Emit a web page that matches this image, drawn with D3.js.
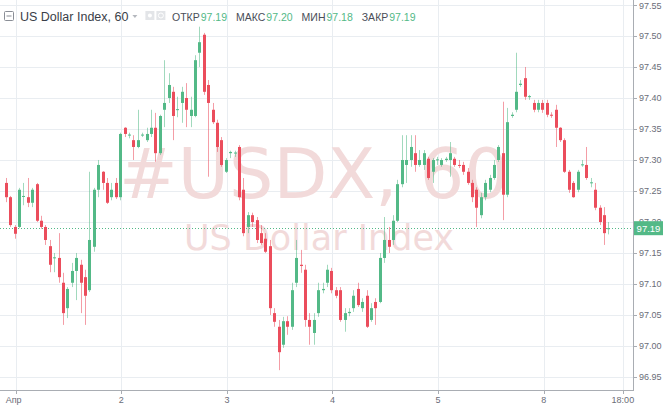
<!DOCTYPE html>
<html><head><meta charset="utf-8">
<script src="https://cdn.jsdelivr.net/npm/d3@7"></script>
<style>html,body{margin:0;padding:0;background:#fff;overflow:hidden}</style>
</head><body><svg id="c" width="665" height="408"></svg>
<script>
// hourly candles, Mar 31 22:00 .. Apr 8 15:00
const opens = [97.263,97.240,97.192,97.192,97.241,97.240,97.231,97.261,97.202,97.192,
97.161,97.142,97.142,97.102,97.061,97.102,97.121,97.131,97.111,97.090,
97.160,97.252,97.281,97.263,97.240,97.263,97.240,97.352,97.340,97.332,
97.321,97.340,97.332,97.342,97.352,97.311,97.381,97.400,97.410,97.381,
97.392,97.400,97.371,97.371,97.473,97.502,97.421,97.381,97.360,97.332,
97.281,97.311,97.311,97.321,97.252,97.192,97.211,97.203,97.182,97.173,
97.161,97.053,97.031,97.002,97.040,97.031,97.102,97.131,97.123,97.042,
97.021,97.053,97.090,97.102,97.121,97.090,97.090,97.042,97.053,97.061,
97.092,97.061,97.081,97.042,97.071,97.071,97.142,97.171,97.171,97.202,
97.261,97.292,97.300,97.311,97.292,97.292,97.302,97.281,97.300,97.292,
97.300,97.300,97.302,97.292,97.292,97.281,97.263,97.252,97.211,97.240,
97.252,97.271,97.300,97.311,97.244,97.371,97.381,97.421,97.432,97.402,
97.392,97.381,97.392,97.392,97.373,97.381,97.352,97.332,97.281,97.263,
97.252,97.292,97.292,97.263,97.252,97.223,97.211,97.19];
const highs = [97.271,97.242,97.195,97.255,97.263,97.271,97.255,97.263,97.210,97.195,
97.171,97.150,97.182,97.118,97.095,97.134,97.150,97.139,97.123,97.281,
97.255,97.300,97.282,97.271,97.263,97.271,97.344,97.353,97.344,97.340,
97.381,97.344,97.352,97.381,97.376,97.373,97.461,97.440,97.418,97.402,
97.418,97.424,97.402,97.469,97.515,97.505,97.429,97.392,97.365,97.337,
97.303,97.315,97.315,97.324,97.271,97.216,97.215,97.208,97.195,97.182,
97.171,97.061,97.042,97.047,97.048,97.102,97.171,97.155,97.131,97.053,
97.053,97.102,97.102,97.131,97.126,97.095,97.095,97.061,97.061,97.090,
97.102,97.077,97.090,97.069,97.077,97.150,97.208,97.192,97.211,97.268,
97.340,97.340,97.340,97.340,97.316,97.316,97.305,97.303,97.305,97.303,
97.305,97.329,97.305,97.300,97.297,97.287,97.268,97.256,97.247,97.268,
97.276,97.300,97.324,97.394,97.384,97.377,97.473,97.429,97.450,97.405,
97.397,97.397,97.397,97.397,97.377,97.389,97.353,97.335,97.284,97.266,
97.284,97.300,97.321,97.271,97.263,97.227,97.224,97.20];
const lows = [97.232,97.192,97.173,97.190,97.227,97.224,97.224,97.200,97.189,97.163,
97.119,97.119,97.102,97.034,97.045,97.095,97.074,97.053,97.034,97.087,
97.152,97.240,97.252,97.229,97.235,97.237,97.235,97.337,97.335,97.300,
97.319,97.337,97.329,97.337,97.297,97.308,97.353,97.392,97.332,97.369,
97.360,97.353,97.353,97.369,97.450,97.405,97.273,97.358,97.313,97.289,
97.279,97.303,97.305,97.235,97.177,97.182,97.192,97.166,97.163,97.150,
97.050,97.031,96.961,96.997,97.018,97.026,97.095,97.118,97.031,97.002,
97.002,97.047,97.085,97.095,97.085,97.077,97.039,97.023,97.048,97.055,
97.063,97.055,97.029,97.039,97.034,97.069,97.134,97.150,97.163,97.200,
97.256,97.263,97.289,97.281,97.289,97.284,97.268,97.263,97.292,97.289,
97.297,97.273,97.289,97.287,97.276,97.260,97.232,97.192,97.206,97.235,
97.248,97.268,97.297,97.203,97.240,97.368,97.377,97.418,97.397,97.397,
97.377,97.377,97.376,97.369,97.368,97.321,97.329,97.279,97.247,97.239,
97.248,97.289,97.268,97.256,97.219,97.195,97.163,97.18];
const closes = [97.240,97.195,97.181,97.252,97.242,97.231,97.252,97.202,97.192,97.171,
97.131,97.143,97.111,97.053,97.092,97.121,97.142,97.102,97.081,97.171,
97.252,97.292,97.263,97.231,97.252,97.240,97.342,97.342,97.341,97.321,
97.332,97.341,97.342,97.352,97.311,97.371,97.392,97.421,97.371,97.382,
97.410,97.381,97.381,97.461,97.490,97.410,97.392,97.361,97.321,97.292,
97.300,97.313,97.312,97.240,97.182,97.211,97.200,97.171,97.166,97.152,
97.061,97.039,96.990,97.040,97.031,97.090,97.142,97.129,97.042,97.031,
97.042,97.090,97.092,97.123,97.090,97.081,97.042,97.053,97.055,97.081,
97.066,97.071,97.031,97.061,97.061,97.142,97.171,97.160,97.202,97.261,
97.300,97.300,97.321,97.292,97.300,97.311,97.271,97.300,97.301,97.300,
97.302,97.311,97.292,97.291,97.281,97.263,97.240,97.223,97.240,97.263,
97.271,97.292,97.321,97.244,97.361,97.373,97.410,97.423,97.402,97.403,
97.381,97.392,97.381,97.373,97.372,97.352,97.332,97.281,97.252,97.240,
97.281,97.293,97.271,97.264,97.223,97.200,97.182,97.19];

const priceTicks = [96.95,97.00,97.05,97.10,97.15,97.20,97.25,97.30,97.35,97.40,97.45,97.50,97.55];
const timeLabels = ["Апр","2","3","4","5","8","18:00"];
const timeTickBar = [2.27,26.27,50.27,74.27,98.27,122.27,140.27]; // bar index of each time mark
const headerTitle = "US Dollar Index, 60";
const ohlcNames = ["ОТКР","МАКС","МИН","ЗАКР"];
const ohlcValues = [97.19,97.20,97.18,97.19];
const lastPrice = 97.19;

const W = 665, H = 408, plotR = 633, plotB = 390;
const UP = "#53b987", DOWN = "#eb4d5c";
const svg = d3.select("#c");
svg.append("rect").attr("width",W).attr("height",H).attr("fill","#fff");

const x = d3.scaleLinear().domain([-1.3, 142.57]).range([0, plotR]);
const y = d3.scaleLinear().domain([96.929, 97.55]).range([plotB, 5]);

const data = opens.map((o,i)=>({i,o,h:highs[i],l:lows[i],c:closes[i]}));

// grid
const grid = svg.append("g");
grid.selectAll("line.h").data(priceTicks).join("line")
  .attr("x1",0).attr("x2",plotR)
  .attr("y1",d=>Math.round(y(d))+0.5).attr("y2",d=>Math.round(y(d))+0.5)
  .attr("stroke","#e9edf1").attr("stroke-width",1);
grid.selectAll("line.v").data(timeTickBar).join("line")
  .attr("x1",d=>Math.round(x(d))+0.5).attr("x2",d=>Math.round(x(d))+0.5)
  .attr("y1",0).attr("y2",plotB)
  .attr("stroke","#e9edf1").attr("stroke-width",1);

// watermark
svg.append("text").attr("x",314).attr("y",198).attr("text-anchor","middle")
  .attr("font-family","DejaVu Sans").attr("font-size",70)
  .attr("fill","#f2dada").text("#USDX, 60");
svg.append("text").attr("x",319).attr("y",250).attr("text-anchor","middle")
  .attr("font-family","DejaVu Sans").attr("font-size",35)
  .attr("fill","#f2dada").text("US Dollar Index");

// last price dotted line
svg.append("line").attr("x1",0).attr("x2",plotR)
  .attr("y1",Math.round(y(lastPrice))+0.5).attr("y2",Math.round(y(lastPrice))+0.5)
  .attr("stroke",UP).attr("stroke-width",1).attr("stroke-dasharray","1,2");

// candles
const cg = svg.append("g");
const col = d=> d.c >= d.o ? UP : DOWN;
cg.selectAll("line.w").data(data).join("line")
  .attr("x1",d=>Math.round(x(d.i))+0.5).attr("x2",d=>Math.round(x(d.i))+0.5)
  .attr("y1",d=>y(d.h)).attr("y2",d=>y(d.l))
  .attr("stroke",col).attr("stroke-opacity",0.55).attr("stroke-width",1);
cg.selectAll("rect.b").data(data).join("rect")
  .attr("x",d=>Math.round(x(d.i))-1).attr("width",3)
  .attr("y",d=>y(Math.max(d.o,d.c)))
  .attr("height",d=>Math.max(1, Math.abs(y(d.o)-y(d.c))))
  .attr("fill",col);

// axes lines
svg.append("line").attr("x1",plotR+0.5).attr("x2",plotR+0.5).attr("y1",0).attr("y2",plotB+1)
  .attr("stroke","#a9adb3");
svg.append("line").attr("x1",0).attr("x2",plotR+1).attr("y1",plotB+0.5).attr("y2",plotB+0.5)
  .attr("stroke","#a9adb3");

// right axis
const ra = svg.append("g");
ra.selectAll("line").data(priceTicks).join("line")
  .attr("x1",plotR).attr("x2",plotR+4)
  .attr("y1",d=>Math.round(y(d))+0.5).attr("y2",d=>Math.round(y(d))+0.5)
  .attr("stroke","#a9adb3");
ra.selectAll("text").data(priceTicks).join("text")
  .attr("x",639).attr("y",d=>y(d)+3.5)
  .attr("font-family","Liberation Sans, Arial, sans-serif").attr("font-size",9)
  .attr("fill","#6a6d78").text(d=>d3.format(".2f")(d));

// last price label
const ly = y(lastPrice);
svg.append("rect").attr("x",plotR+1).attr("y",ly-7).attr("width",29).attr("height",14).attr("fill",UP);
svg.append("text").attr("x",plotR+15.5).attr("y",ly+3.5).attr("text-anchor","middle")
  .attr("font-family","Liberation Sans, Arial, sans-serif").attr("font-size",9.5)
  .attr("fill","#fff").text(d3.format(".2f")(lastPrice));

// bottom axis
const ba = svg.append("g");
ba.selectAll("line").data(timeTickBar).join("line")
  .attr("x1",d=>Math.round(x(d))+0.5).attr("x2",d=>Math.round(x(d))+0.5)
  .attr("y1",plotB).attr("y2",plotB+4).attr("stroke","#a9adb3");
ba.selectAll("text").data(timeLabels).join("text")
  .attr("x",(d,k)=>x(timeTickBar[k])).attr("y",403)
  .attr("text-anchor",(d,k)=>k===0?"start":"middle")
  .attr("dx",(d,k)=>k===0?-10:0)
  .attr("font-family","Liberation Sans, Arial, sans-serif").attr("font-size",9)
  .attr("fill","#6a6d78").text(d=>d);

// header
const hd = svg.append("g");
hd.append("rect").attr("x",4.5).attr("y",11.5).attr("width",9).attr("height",9).attr("fill","#fff")
  .attr("stroke","#8a8e96").attr("rx",1);
hd.append("line").attr("x1",6.5).attr("x2",11.5).attr("y1",16).attr("y2",16).attr("stroke","#8a8e96");
const tt = hd.append("text").attr("x",20).attr("y",21)
  .attr("font-family","Liberation Sans, Arial, sans-serif").attr("font-size",12.5)
  .attr("fill","#3a3e48").text(headerTitle);
const tEnd = 20 + tt.node().getComputedTextLength();
hd.append("path").attr("d",`M${tEnd+4},15 l5,0 l-2.5,3 z`).attr("fill","#b5b8be");
hd.append("rect").attr("x",tEnd+17).attr("y",11).attr("width",9).attr("height",9).attr("fill","#e3e5e8");
hd.append("circle").attr("cx",tEnd+21.5).attr("cy",15.5).attr("r",2).attr("fill","#fff");
hd.append("rect").attr("x",tEnd+28).attr("y",11).attr("width",9).attr("height",9).attr("fill","#e3e5e8");
hd.append("circle").attr("cx",tEnd+32.5).attr("cy",15.5).attr("r",2.5).attr("fill","none").attr("stroke","#fff");
let hx = 172;
ohlcNames.forEach((n,k)=>{
  const a = hd.append("text").attr("x",hx).attr("y",20.5)
    .attr("font-family","Liberation Sans, Arial, sans-serif").attr("font-size",10.5)
    .attr("fill","#4a4e58").text(n);
  hx += a.node().getComputedTextLength() + 1;
  const b = hd.append("text").attr("x",hx).attr("y",20.5)
    .attr("font-family","Liberation Sans, Arial, sans-serif").attr("font-size",10.5)
    .attr("fill",UP).text(d3.format(".2f")(ohlcValues[k]));
  hx += b.node().getComputedTextLength() + 9;
});
</script></body></html>
